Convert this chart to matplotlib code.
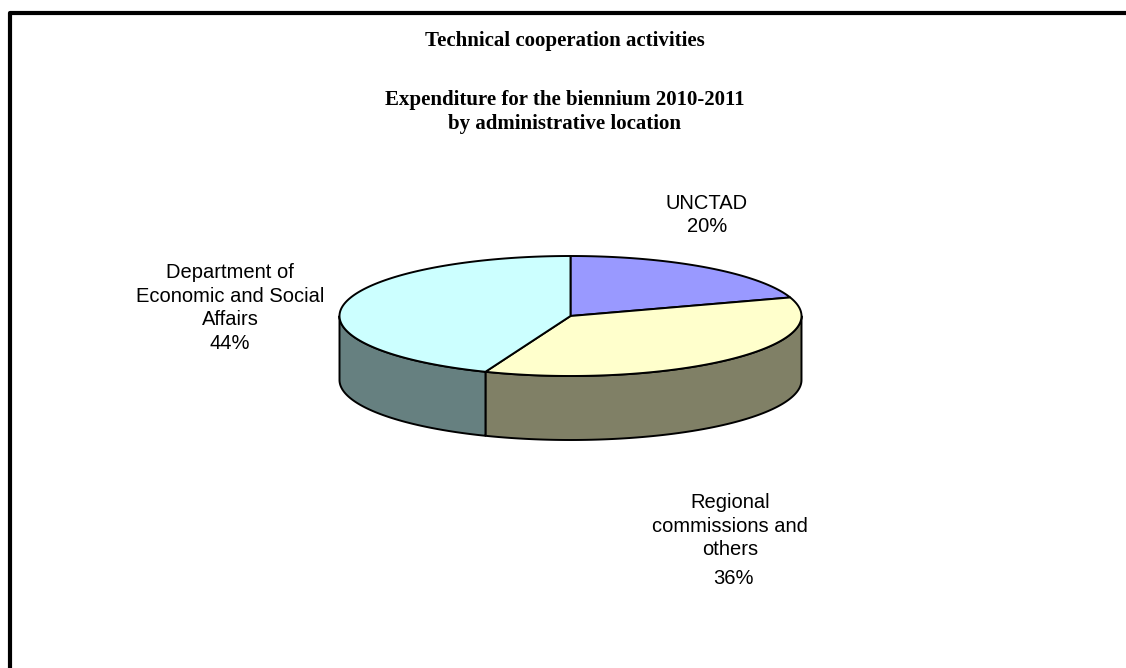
import numpy as np
import matplotlib
matplotlib.use("Agg")
import matplotlib.pyplot as plt
from matplotlib.patches import Polygon

# data
labels = ["UNCTAD", "Regional\ncommissions and\nothers", "Department of\nEconomic and Social\nAffairs"]
values = [20, 36, 44]
pct_labels = ["20%", "36%", "44%"]
top_colors = ["#9999FF", "#FFFFCC", "#CCFFFF"]
side_colors = ["#666699", "#808066", "#668080"]

W, H = 1126, 668
fig = plt.figure(figsize=(W / 100, H / 100), dpi=100)
ax = fig.add_axes([0, 0, 1, 1])
ax.set_xlim(0, W)
ax.set_ylim(H, 0)
ax.axis("off")

# frame (left + top only visible)
ax.plot([10, 10, W + 5], [H + 5, 13, 13], color="black", lw=3.0, solid_capstyle="butt")

# pie geometry (pixels)
cx, cy = 570.5, 316
rx, ry = 231, 60
depth = 64


def arc(t0, t1, dy=0, n=200):
    t = np.radians(np.linspace(t0, t1, n))
    return np.column_stack([cx + rx * np.cos(t), cy - ry * np.sin(t) + dy])


total = sum(values)
angles = []
start = 90.0
for v in values:
    end = start - 360.0 * v / total
    angles.append((start, end))
    start = end

# side walls (front half only)
for (a0, a1), col in zip(angles, side_colors):
    for lo_h, hi_h in [(-180, 0), (-540, -360)]:
        lo = max(a1, lo_h)
        hi = min(a0, hi_h)
        if hi <= lo:
            continue
        top = arc(lo, hi)
        bot = arc(hi, lo, dy=depth)
        ax.add_patch(Polygon(np.vstack([top, bot]), closed=True, facecolor=col,
                             edgecolor="black", lw=1.4, joinstyle="round"))

# top faces
for (a0, a1), col in zip(angles, top_colors):
    pts = np.vstack([[cx, cy], arc(a0, a1)])
    ax.add_patch(Polygon(pts, closed=True, facecolor=col, edgecolor="black",
                         lw=1.4, joinstyle="round"))

# titles
title_font = dict(family="Liberation Serif", fontsize=15, fontweight="bold",
                  ha="center", va="center")
ax.text(565, 41, "Technical cooperation activities", **title_font)
ax.text(565, 100, "Expenditure for the biennium 2010-2011", **title_font)
ax.text(565, 124, "by administrative location", **title_font)

# slice labels
lab_font = dict(family="Liberation Sans", fontsize=14.5, ha="center", va="center",
                linespacing=1.32)
ax.text(707, 215, labels[0] + "\n" + pct_labels[0], **lab_font)
ax.text(730, 526, labels[1], **lab_font)
ax.text(733, 578, pct_labels[1], **lab_font)
ax.text(230, 308, labels[2] + "\n" + pct_labels[2], **lab_font)

fig.savefig("out.png", dpi=100)
plt.close(fig)
